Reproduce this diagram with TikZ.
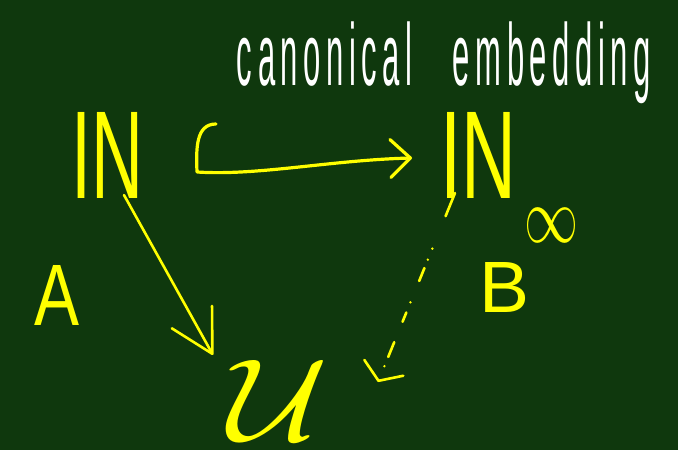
\documentclass[tikz,border=0pt]{standalone}
\usepackage{fontspec}
\setmainfont{Liberation Sans}
\newfontfamily\capfont[LetterSpace=18]{Liberation Sans}
\usetikzlibrary{arrows.meta,calc}
\definecolor{board}{RGB}{15,56,13}
\definecolor{chalkY}{RGB}{255,255,0}
\begin{document}
\begin{tikzpicture}[x=1pt,y=-1pt,
  lbl/.style={inner sep=0pt,outer sep=0pt,text=chalkY},
  stroke/.style={draw=chalkY,line width=3.2pt,line cap=round,line join=round}]
\fill[board] (0,0) rectangle (678,450);
\useasboundingbox (0,0) rectangle (678,450);
\node[lbl] (INL) at (107,155) {\resizebox{72pt}{86pt}{IN}};
\node[lbl] (INR) at (478,155) {\resizebox{76pt}{86pt}{IN}};
\node[lbl] (inf) at (551,225) {\resizebox{54pt}{34pt}{$\infty$}};
\node[lbl,text=white] (cap) at (444,63) {\resizebox*{414pt}{82pt}{\capfont canonical\hspace{1.3em}embedding}};
\node[lbl] (A) at (57,295) {\resizebox{45pt}{60pt}{A}};
\node[lbl] (B) at (505,287) {\resizebox{50pt}{50pt}{B}};
\node[lbl] (U) at (279,400) {\resizebox{100pt}{80pt}{$\mathcal{U}$}};
\draw[stroke,-{Straight Barb[round,length=20pt,width=38pt]}]
  ($(INL.east)+(73,-31)$) .. controls +(-20,0) and +(-1,-24) .. ($(INL.east)+(54,17)$)
  .. controls +(60,4) and +(-80,2) .. ($(INR.west)+(-28,3)$);
\draw[stroke,line width=2.6pt,-{Straight Barb[round,length=42pt,width=46pt]}]
  ($(INL.south)+(17,-3)$) -- ($(U.north west)+(-16,-5)$);
\draw[stroke,line width=2.6pt,dash pattern=on 25pt off 35pt on 0pt off 12pt on 0pt off 9pt on 14pt off 23pt on 0pt off 11pt on 10pt off 22pt on 16pt off 10pt on 0pt off 20pt,
  -{Straight Barb[round,length=14pt,width=42pt]}]
  ($(INR.south)+(-23,-5)$) -- ($(U.east)+(49,-18)$);
\end{tikzpicture}
\end{document}
